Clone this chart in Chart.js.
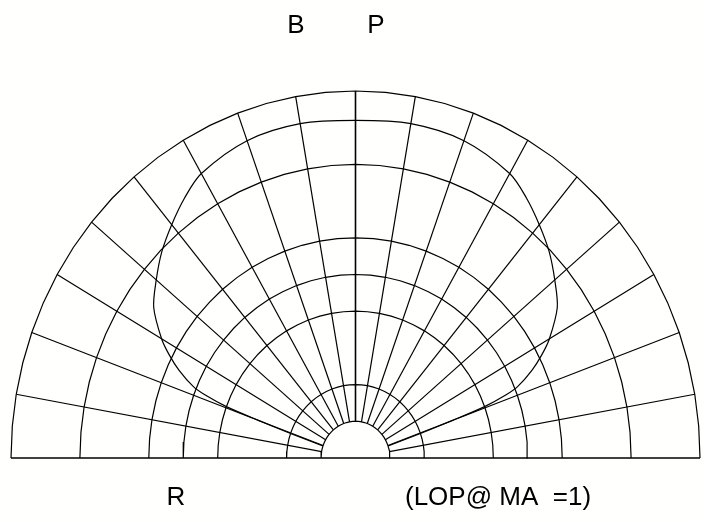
<!DOCTYPE html>
<html>
<head>
<meta charset="utf-8">
<script src="https://cdn.jsdelivr.net/npm/chart.js@4.4.0/dist/chart.umd.min.js"></script>
<style>
  html, body { margin: 0; padding: 0; background: #fffffd; }
  #wrap { width: 701px; height: 522px; position: relative; }
</style>
</head>
<body>
<div id="wrap"><canvas id="polarChart"></canvas></div>
<script>
// grid rings (same units as the pattern, outer ring = 10)
const ringRadii = [1, 2, 4, 5, 6, 8, 10];
// spokes every 10 degrees, from the inner ring out to the rim
const spokeAngles = [10, 20, 30, 40, 50, 60, 70, 80, 90, 100, 110, 120, 130, 140, 150, 160, 170];
const spokeInner = 1;
const spokeOuter = 10;

// pattern curve (angle in degrees, radius)
const patternAngles = [19, 19.5, 20, 20.5, 21.5, 22.5, 25, 27.5, 30, 35, 40, 45, 50, 55, 60, 70, 80, 90,
                       100, 110, 120, 125, 130, 135, 140, 145, 150, 152.5, 155, 157.5, 158.5, 159.5, 160, 160.5, 161];
const patternRadii  = [1.0, 2.0, 3.0, 4.0, 4.7, 5.1, 5.65, 6.1, 6.5, 7.15, 7.55, 7.95, 8.3, 8.65, 8.95, 9.2, 9.25, 9.2,
                       9.25, 9.2, 8.95, 8.65, 8.3, 7.95, 7.55, 7.15, 6.5, 6.1, 5.65, 5.1, 4.7, 4.0, 3.0, 2.0, 1.0];

const topLabels = ['B', 'P'];
const bottomLabels = ['R', '(LOP@ MA  =1)'];

const toXY = (deg, r) => ({ x: r * Math.cos(deg * Math.PI / 180), y: r * Math.sin(deg * Math.PI / 180) });

const lineStyle = { borderColor: '#000', borderWidth: 1.2, pointRadius: 0, showLine: true, fill: false, clip: false, tension: 0 };

const datasets = [];

// rings
ringRadii.forEach(r => {
  const pts = [];
  for (let a = 0; a <= 180; a += 5) pts.push(toXY(a, r));
  datasets.push({ ...lineStyle, data: pts });
});

// spokes
spokeAngles.forEach(a => {
  datasets.push({ ...lineStyle, borderWidth: a === 90 ? 1.6 : 1.2, data: [toXY(a, spokeInner), toXY(a, spokeOuter)] });
});

// base line
datasets.push({ ...lineStyle, borderWidth: 1.6, data: [{ x: -10, y: 0 }, { x: 10, y: 0 }] });

// pattern
datasets.push({ ...lineStyle, tension: 0.3, data: patternAngles.map((a, i) => toXY(a, patternRadii[i])) });

// text labels drawn on the canvas
const labelPlugin = {
  id: 'labels',
  afterDraw(chart) {
    const ctx = chart.ctx;
    ctx.save();
    ctx.fillStyle = '#000';
    ctx.font = '26px "Liberation Sans", Arial, sans-serif';
    ctx.textBaseline = 'middle';
    ctx.textAlign = 'center';
    ctx.fillText(topLabels[0], 296, 26);
    ctx.fillText(topLabels[1], 376, 26);
    ctx.fillText(bottomLabels[0], 176, 498);
    ctx.textAlign = 'left';
    ctx.fillText(bottomLabels[1], 405, 498);
    ctx.restore();
  }
};

new Chart(document.getElementById('polarChart'), {
  type: 'scatter',
  data: { datasets },
  options: {
    responsive: true,
    maintainAspectRatio: false,
    animation: false,
    layout: { padding: { left: 11, right: 1, top: 91, bottom: 64 } },
    scales: {
      x: { type: 'linear', min: -10, max: 10, display: false },
      y: { type: 'linear', min: 0, max: 10, display: false }
    },
    plugins: {
      legend: { display: false },
      tooltip: { enabled: false }
    }
  },
  plugins: [labelPlugin]
});
</script>
</body>
</html>
